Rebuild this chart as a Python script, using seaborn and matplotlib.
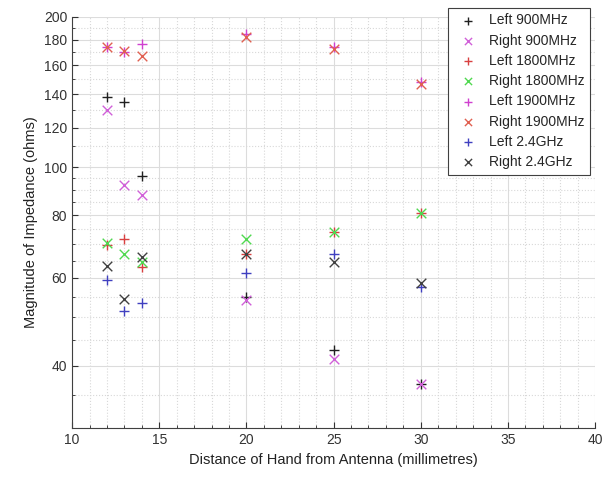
import numpy as np
import matplotlib
matplotlib.use("Agg")
import matplotlib.pyplot as plt
import seaborn as sns
from matplotlib.ticker import FixedLocator, NullFormatter, MultipleLocator

sns.set_style("white")
plt.rcParams['font.family'] = ['Liberation Sans', 'DejaVu Sans']

distance = [12, 13, 14, 20, 25, 30]

left_900 = [138, 135, 96, 55, 43, 36.8]
right_900 = [130, 92, 88, 54.3, 41.3, 36.8]
left_1800 = [69.7, 71.7, 63, 67, 74.3, 81]
right_1800 = [70.6, 67, 64.7, 71.7, 74.3, 81]
left_1900 = [174, 170, 176, 184.5, 174, 148]
right_1900 = [174, 171, 167, 182, 172, 147]
left_24 = [59.3, 51.4, 53.5, 61.5, 67, 57.6]
right_24 = [63.5, 54.5, 66, 67, 64.7, 58.7]

series = [
    ("Left 900MHz", left_900, "+", "#202020"),
    ("Right 900MHz", right_900, "x", "#d060d8"),
    ("Left 1800MHz", left_1800, "+", "#d84040"),
    ("Right 1800MHz", right_1800, "x", "#50d850"),
    ("Left 1900MHz", left_1900, "+", "#d040d0"),
    ("Right 1900MHz", right_1900, "x", "#e06050"),
    ("Left 2.4GHz", left_24, "+", "#4040c0"),
    ("Right 2.4GHz", right_24, "x", "#404040"),
]

fig = plt.figure(figsize=(6.11, 4.79), dpi=100)
ax = fig.add_axes([0.118, 0.106, 0.856, 0.859])

for name, vals, mk, col in series:
    sns.scatterplot(x=distance, y=vals, marker=mk, color=col, s=48,
                    linewidth=1.0, label=name, ax=ax, zorder=3)

ax.set_yscale("log")
ax.set_xlim(10, 40)
ax.set_ylim(30, 200)
ax.xaxis.set_major_locator(MultipleLocator(5))
ax.xaxis.set_minor_locator(MultipleLocator(1))
yt = [40, 60, 80, 100, 120, 140, 160, 180, 200]
ax.yaxis.set_major_locator(FixedLocator(yt))
ax.set_yticklabels([str(v) for v in yt])
ax.yaxis.set_minor_locator(FixedLocator([30, 35, 45, 50, 55, 65, 70, 75, 85, 90, 95,
                                         110, 130, 150, 170, 190]))
ax.yaxis.set_minor_formatter(NullFormatter())

ax.grid(True, which="major", color="#dcdcdc", linewidth=0.8)
ax.grid(True, which="minor", color="#d8d8d8", linestyle=":", linewidth=0.8)
ax.tick_params(which="major", direction="in", length=4, labelsize=10, colors="#333333",
               top=False, right=False, left=True, bottom=True)
ax.tick_params(which="minor", direction="in", length=2, left=True, bottom=True)

for side in ["top", "right"]:
    ax.spines[side].set_visible(False)
for side in ["left", "bottom"]:
    ax.spines[side].set_color("#404040")
    ax.spines[side].set_linewidth(0.8)

ax.set_xlabel("Distance of Hand from Antenna (millimetres)", fontsize=10.5, color="#222222")
ax.set_ylabel("Magnitude of Impedance (ohms)", fontsize=10.5, color="#222222")

leg = ax.legend(loc="upper right", bbox_to_anchor=(0.99, 1.022), fontsize=10,
                frameon=True, fancybox=False, borderaxespad=0.0, handletextpad=0.5,
                labelspacing=0.45, markerscale=0.75, edgecolor="#404040",
                framealpha=1)
leg.get_frame().set_linewidth(0.8)

fig.savefig("out.png", dpi=100)
